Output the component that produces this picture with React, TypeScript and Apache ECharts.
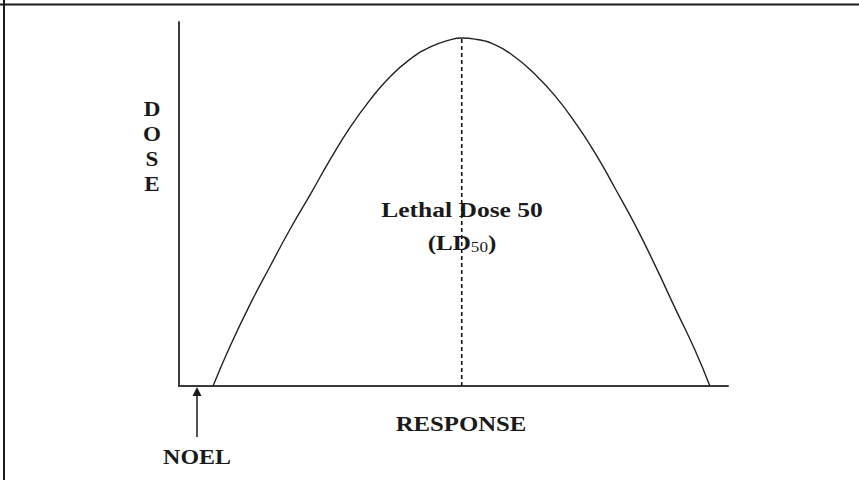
import React, { useEffect, useRef } from "react";
import * as echarts from "echarts";

// Response (x) and Dose (y) readings of the bell curve, in axis units 0..100
const curveX = [
  6.2, 9.3, 12.9, 16.6, 20.2, 23.9, 27.5, 31.1, 34.8, 38.4, 42.1, 45.7, 49.4,
  51.5, 53.9, 57.6, 61.2, 64.8, 68.5, 72.1, 75.8, 79.4, 83.1, 86.7, 90.3, 94.0,
  96.7,
];
const curveY = [
  0, 10.9, 22.3, 32.9, 43.0, 52.6, 62.1, 70.9, 78.6, 84.9, 89.8, 93.1, 95.1,
  95.6, 95.3, 93.7, 90.4, 85.7, 79.7, 72.5, 64.0, 54.4, 44.2, 33.2, 21.6, 9.8,
  0,
];
// LD50 marker: x position and top
const ld50X = [51.5, 51.5];
const ld50Y = [0, 95.6];

const yLetters = ["D", "O", "S", "E"];
const xTitle = "RESPONSE";
const noelLabel = "NOEL";
const ldTitle = "Lethal Dose 50";

const FONT = "'Liberation Serif', 'Times New Roman', serif";

export default function App() {
  const ref = useRef<HTMLDivElement>(null);

  useEffect(() => {
    if (!ref.current) return;
    const chart = echarts.init(ref.current, null, { renderer: "svg" });

    const txt = (text: string, x: number, y: number, size: number, sx: number) => ({
      type: "text",
      x,
      y,
      scaleX: sx,
      z: 10,
      style: {
        text,
        fill: "#1a1a1a",
        font: `bold ${size}px ${FONT}`,
        textAlign: "center",
        textVerticalAlign: "middle",
      },
    });

    const graphic: any[] = [
      {
        type: "line",
        shape: { x1: 4, y1: 0, x2: 4, y2: 480 },
        style: { stroke: "#1a1a1a", lineWidth: 2 },
      },
      {
        type: "line",
        shape: { x1: 0, y1: 4.5, x2: 859, y2: 4.5 },
        style: { stroke: "#1a1a1a", lineWidth: 2 },
      },
      txt(ldTitle, 462, 210, 22, 1.16),
      {
        type: "text",
        x: 462,
        y: 243,
        scaleX: 1.14,
        z: 10,
        style: {
          text: "{a|(LD}{b|50}{a|)}",
          textAlign: "center",
          textVerticalAlign: "middle",
          rich: {
            a: {
              fontFamily: FONT,
              fontWeight: "bold",
              fontSize: 22,
              fill: "#1a1a1a",
              color: "#1a1a1a",
            },
            b: {
              fontFamily: FONT,
              fontWeight: "normal",
              fontSize: 15,
              fill: "#1a1a1a",
              color: "#1a1a1a",
              verticalAlign: "bottom",
            },
          },
        },
      },
      txt(xTitle, 461, 424, 21, 1.18),
      txt(noelLabel, 197, 457, 21, 1.14),
      ...yLetters.map((l, i) => txt(l, 152, 109 + i * 25, 21, 1.1)),
      {
        type: "line",
        shape: { x1: 197, y1: 437, x2: 197, y2: 394 },
        style: { stroke: "#1a1a1a", lineWidth: 1.5 },
      },
      {
        type: "polygon",
        shape: {
          points: [
            [197, 387],
            [192.5, 396],
            [201.5, 396],
          ],
        },
        style: { fill: "#1a1a1a" },
      },
    ];

    chart.setOption({
      animation: false,
      backgroundColor: "#ffffff",
      grid: { left: 179, top: 22, right: 131, bottom: 94 },
      xAxis: {
        type: "value",
        min: 0,
        max: 100,
        axisLine: { show: true, onZero: false, lineStyle: { color: "#3a3a3a", width: 2 } },
        axisTick: { show: false },
        axisLabel: { show: false },
        splitLine: { show: false },
      },
      yAxis: {
        type: "value",
        min: 0,
        max: 100,
        axisLine: { show: true, onZero: false, lineStyle: { color: "#3a3a3a", width: 2 } },
        axisTick: { show: false },
        axisLabel: { show: false },
        splitLine: { show: false },
      },
      series: [
        {
          type: "line",
          data: ld50X.map((x, i) => [x, ld50Y[i]]),
          symbol: "none",
          lineStyle: { color: "#111", width: 1.6, type: [4, 3] },
          z: 2,
        },
        {
          type: "line",
          data: curveX.map((x, i) => [x, curveY[i]]),
          symbol: "none",
          smooth: 0.5,
          lineStyle: { color: "#222", width: 1.4 },
          z: 3,
        },
      ],
      graphic,
    });

    return () => chart.dispose();
  }, []);

  return (
    <div
      ref={ref}
      style={{ position: "absolute", left: 0, top: 0, width: 859, height: 480 }}
    />
  );
}
